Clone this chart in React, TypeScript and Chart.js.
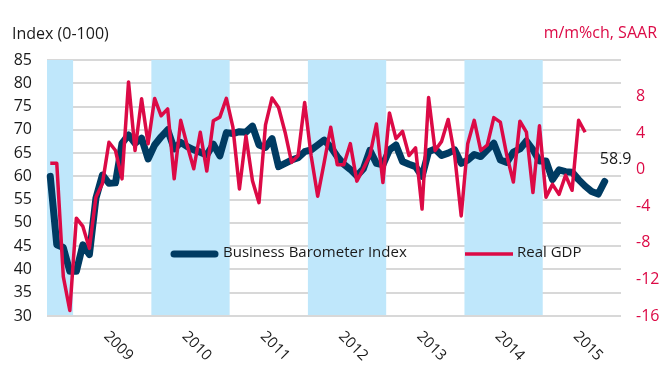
import React, { useEffect, useRef } from "react";
import { Chart, registerables } from "chart.js";

Chart.register(...registerables);

// Months from Sep 2008 through Dec 2015 (category axis)
const START_YEAR = 2008;
const START_MONTH = 9;
const END_YEAR = 2015;
const MONTH_NAMES = ["Jan", "Feb", "Mar", "Apr", "May", "Jun", "Jul", "Aug", "Sep", "Oct", "Nov", "Dec"];

const monthLabels: string[] = [];
for (let y = START_YEAR; y <= END_YEAR; y++) {
  for (let m = 1; m <= 12; m++) {
    if (y === START_YEAR && m < START_MONTH) continue;
    monthLabels.push(`${MONTH_NAMES[m - 1]} ${y}`);
  }
}

const YEAR_LABELS = ["2009", "2010", "2011", "2012", "2013", "2014", "2015"];
const SHADED_YEARS = ["2008", "2010", "2012", "2014"];

// Business Barometer Index (0-100), monthly from Sep 2008
const BBI = [
  60.0, 45.3, 44.7, 39.6, 39.6, 45.3, 43.2, 55.3, 60.3, 58.5, 58.6, 67.1,
  68.9, 67.1, 68.2, 63.75, 66.75, 68.5, 70.0, 65.9, 67.3, 66.4, 65.7, 65.2,
  64.6, 66.9, 64.4, 69.4, 69.2, 69.6, 69.5, 70.8, 66.75, 66.2, 68.1, 62.1,
  62.8, 63.5, 64.0, 65.3, 65.7, 66.75, 67.8, 66.3, 64.25, 62.6, 61.5, 60.1,
  61.6, 65.6, 62.8, 62.5, 65.7, 66.75, 63.2, 62.6, 62.1, 60.0, 65.3, 65.9,
  64.5, 65.0, 65.7, 62.8, 63.5, 64.7, 64.25, 65.7, 67.1, 63.5, 63.0, 65.2,
  65.9, 67.6, 65.7, 63.3, 63.3, 59.3, 61.4, 61.0, 60.9, 59.3, 57.9, 56.75,
  56.2, 58.9,
];

// Real GDP, m/m % ch SAAR, monthly from Sep 2008
const GDP = [
  0.7, 0.7, -11.7, -15.4, -5.3, -6.2, -8.6, -3.0, -1.5, 3.0, 2.1, -1.0,
  9.6, 2.1, 7.75, 2.85, 7.8, 5.9, 6.65, -1.0, 5.4, 2.65, 0.1, 4.1,
  -0.15, 5.35, 5.75, 7.8, 4.65, -2.1, 3.7, -1.2, -3.6, 4.9, 7.85, 6.8,
  4.1, 0.8, 1.55, 7.35, 1.5, -2.9, 0.8, 4.65, 0.55, 0.55, 2.85, -1.25,
  0.1, 1.55, 5.0, -1.4, 6.2, 3.4, 4.2, 1.55, 2.4, -4.3, 7.9, 2.1,
  3.1, 5.5, 1.55, -5.05, 2.85, 5.4, 2.1, 2.7, 5.7, 5.2, 1.55, -1.35,
  5.3, 4.1, -2.5, 4.8, -3.0, -1.6, -2.7, -0.6, -2.25, 5.4, 4.1,
];

const NAVY = "#003B62";
const RED = "#DC0A46";
const BAND = "#BFE7FB";
const GRID = "#D8D8D8";
const TEXT = "#1a1a1a";
const FONT = '"Open Sans", "Noto Sans", sans-serif';

function yearRange(year: string): [number, number] | null {
  let first = -1;
  let last = -1;
  monthLabels.forEach((l, i) => {
    if (l.endsWith(year)) {
      if (first < 0) first = i;
      last = i;
    }
  });
  return first < 0 ? null : [first, last];
}

const overlayPlugin = {
  id: "overlay",
  beforeDatasetsDraw(chart: any) {
    const { ctx, chartArea } = chart;
    const w = (chartArea.right - chartArea.left) / monthLabels.length;
    ctx.save();
    ctx.fillStyle = BAND;
    SHADED_YEARS.forEach((y) => {
      const r = yearRange(y);
      if (!r) return;
      const x0 = chartArea.left + r[0] * w;
      const x1 = chartArea.left + (r[1] + 1) * w;
      ctx.fillRect(x0, chartArea.top, x1 - x0, chartArea.bottom - chartArea.top - 1);
    });
    ctx.restore();
  },
  afterDatasetsDraw(chart: any) {
    const { ctx } = chart;
    ctx.save();
    // Legend
    ctx.lineCap = "round";
    ctx.strokeStyle = NAVY;
    ctx.lineWidth = 7;
    ctx.beginPath();
    ctx.moveTo(174, 254);
    ctx.lineTo(215, 254);
    ctx.stroke();
    ctx.lineCap = "butt";
    ctx.strokeStyle = RED;
    ctx.lineWidth = 3.5;
    ctx.beginPath();
    ctx.moveTo(465, 254);
    ctx.lineTo(513, 254);
    ctx.stroke();
    ctx.fillStyle = TEXT;
    ctx.font = `15px ${FONT}`;
    ctx.textAlign = "left";
    ctx.textBaseline = "middle";
    ctx.fillText("Business Barometer Index", 223, 253);
    ctx.fillText("Real GDP", 517, 253);

    // Data label on last BBI point
    const meta = chart.getDatasetMeta(1);
    const last = meta.data[BBI.length - 1];
    if (last) {
      ctx.font = `16px ${FONT}`;
      ctx.textAlign = "center";
      ctx.fillText(BBI[BBI.length - 1].toFixed(1), last.x + 11, last.y - 22);
    }
    ctx.restore();
  },
  afterDraw(chart: any) {
    const { ctx, chartArea } = chart;
    const w = (chartArea.right - chartArea.left) / monthLabels.length;
    ctx.save();
    ctx.fillStyle = TEXT;
    ctx.font = `16px ${FONT}`;
    ctx.textAlign = "left";
    ctx.textBaseline = "middle";
    ctx.fillText("Index (0-100)", 12, 34);
    ctx.fillStyle = RED;
    ctx.textAlign = "right";
    ctx.fillText("m/m%ch, SAAR", 657, 33);

    ctx.fillStyle = TEXT;
    ctx.font = `15px ${FONT}`;
    YEAR_LABELS.forEach((y) => {
      const r = yearRange(y);
      if (!r) return;
      const cx = chartArea.left + ((r[0] + r[1] + 1) / 2) * w;
      ctx.save();
      ctx.translate(cx - 6, chartArea.bottom + 18);
      ctx.rotate(Math.PI / 4);
      ctx.textAlign = "left";
      ctx.textBaseline = "middle";
      ctx.fillText(y, 0, 0);
      ctx.restore();
    });
    ctx.restore();
  },
};

export default function App() {
  const ref = useRef<HTMLCanvasElement>(null);

  useEffect(() => {
    if (!ref.current) return;
    Chart.defaults.font.family = FONT;
    const chart = new Chart(ref.current, {
      type: "line",
      data: {
        labels: monthLabels,
        datasets: [
          {
            label: "Real GDP",
            data: GDP,
            yAxisID: "y2",
            borderColor: RED,
            backgroundColor: RED,
            borderWidth: 3.5,
            pointRadius: 0,
            tension: 0,
            borderJoinStyle: "round",
            order: 0,
          },
          {
            label: "Business Barometer Index",
            data: BBI,
            yAxisID: "y",
            borderColor: NAVY,
            backgroundColor: NAVY,
            borderWidth: 7,
            pointRadius: 0,
            tension: 0,
            borderJoinStyle: "round",
            borderCapStyle: "round",
            order: 1,
          },
        ],
      },
      options: {
        responsive: false,
        animation: false,
        layout: { padding: { top: 60, bottom: 75, left: 0, right: 0 } },
        plugins: {
          legend: { display: false },
          tooltip: { enabled: false },
        },
        scales: {
          x: { type: "category", offset: true, display: false },
          y: {
            position: "left",
            min: 30,
            max: 85,
            ticks: { stepSize: 5, padding: 15, color: TEXT, font: { size: 16, family: FONT } },
            grid: { color: GRID, lineWidth: 2, drawTicks: false },
            border: { display: false },
            afterFit: (s: any) => {
              s.width = 47;
            },
          },
          y2: {
            position: "right",
            min: -16,
            max: 12,
            ticks: {
              stepSize: 4,
              padding: 15,
              color: RED,
              font: { size: 16, family: FONT },
              callback: (v: any) => (v === 12 ? "" : String(v)),
            },
            grid: { display: false, drawTicks: false },
            border: { display: false },
            afterFit: (s: any) => {
              s.width = 43;
            },
          },
        },
      },
      plugins: [overlayPlugin],
    });
    return () => chart.destroy();
  }, []);

  return (
    <div style={{ position: "absolute", left: 0, top: 0, width: 664, height: 391, background: "#fff" }}>
      <canvas ref={ref} width={664} height={391} />
    </div>
  );
}
